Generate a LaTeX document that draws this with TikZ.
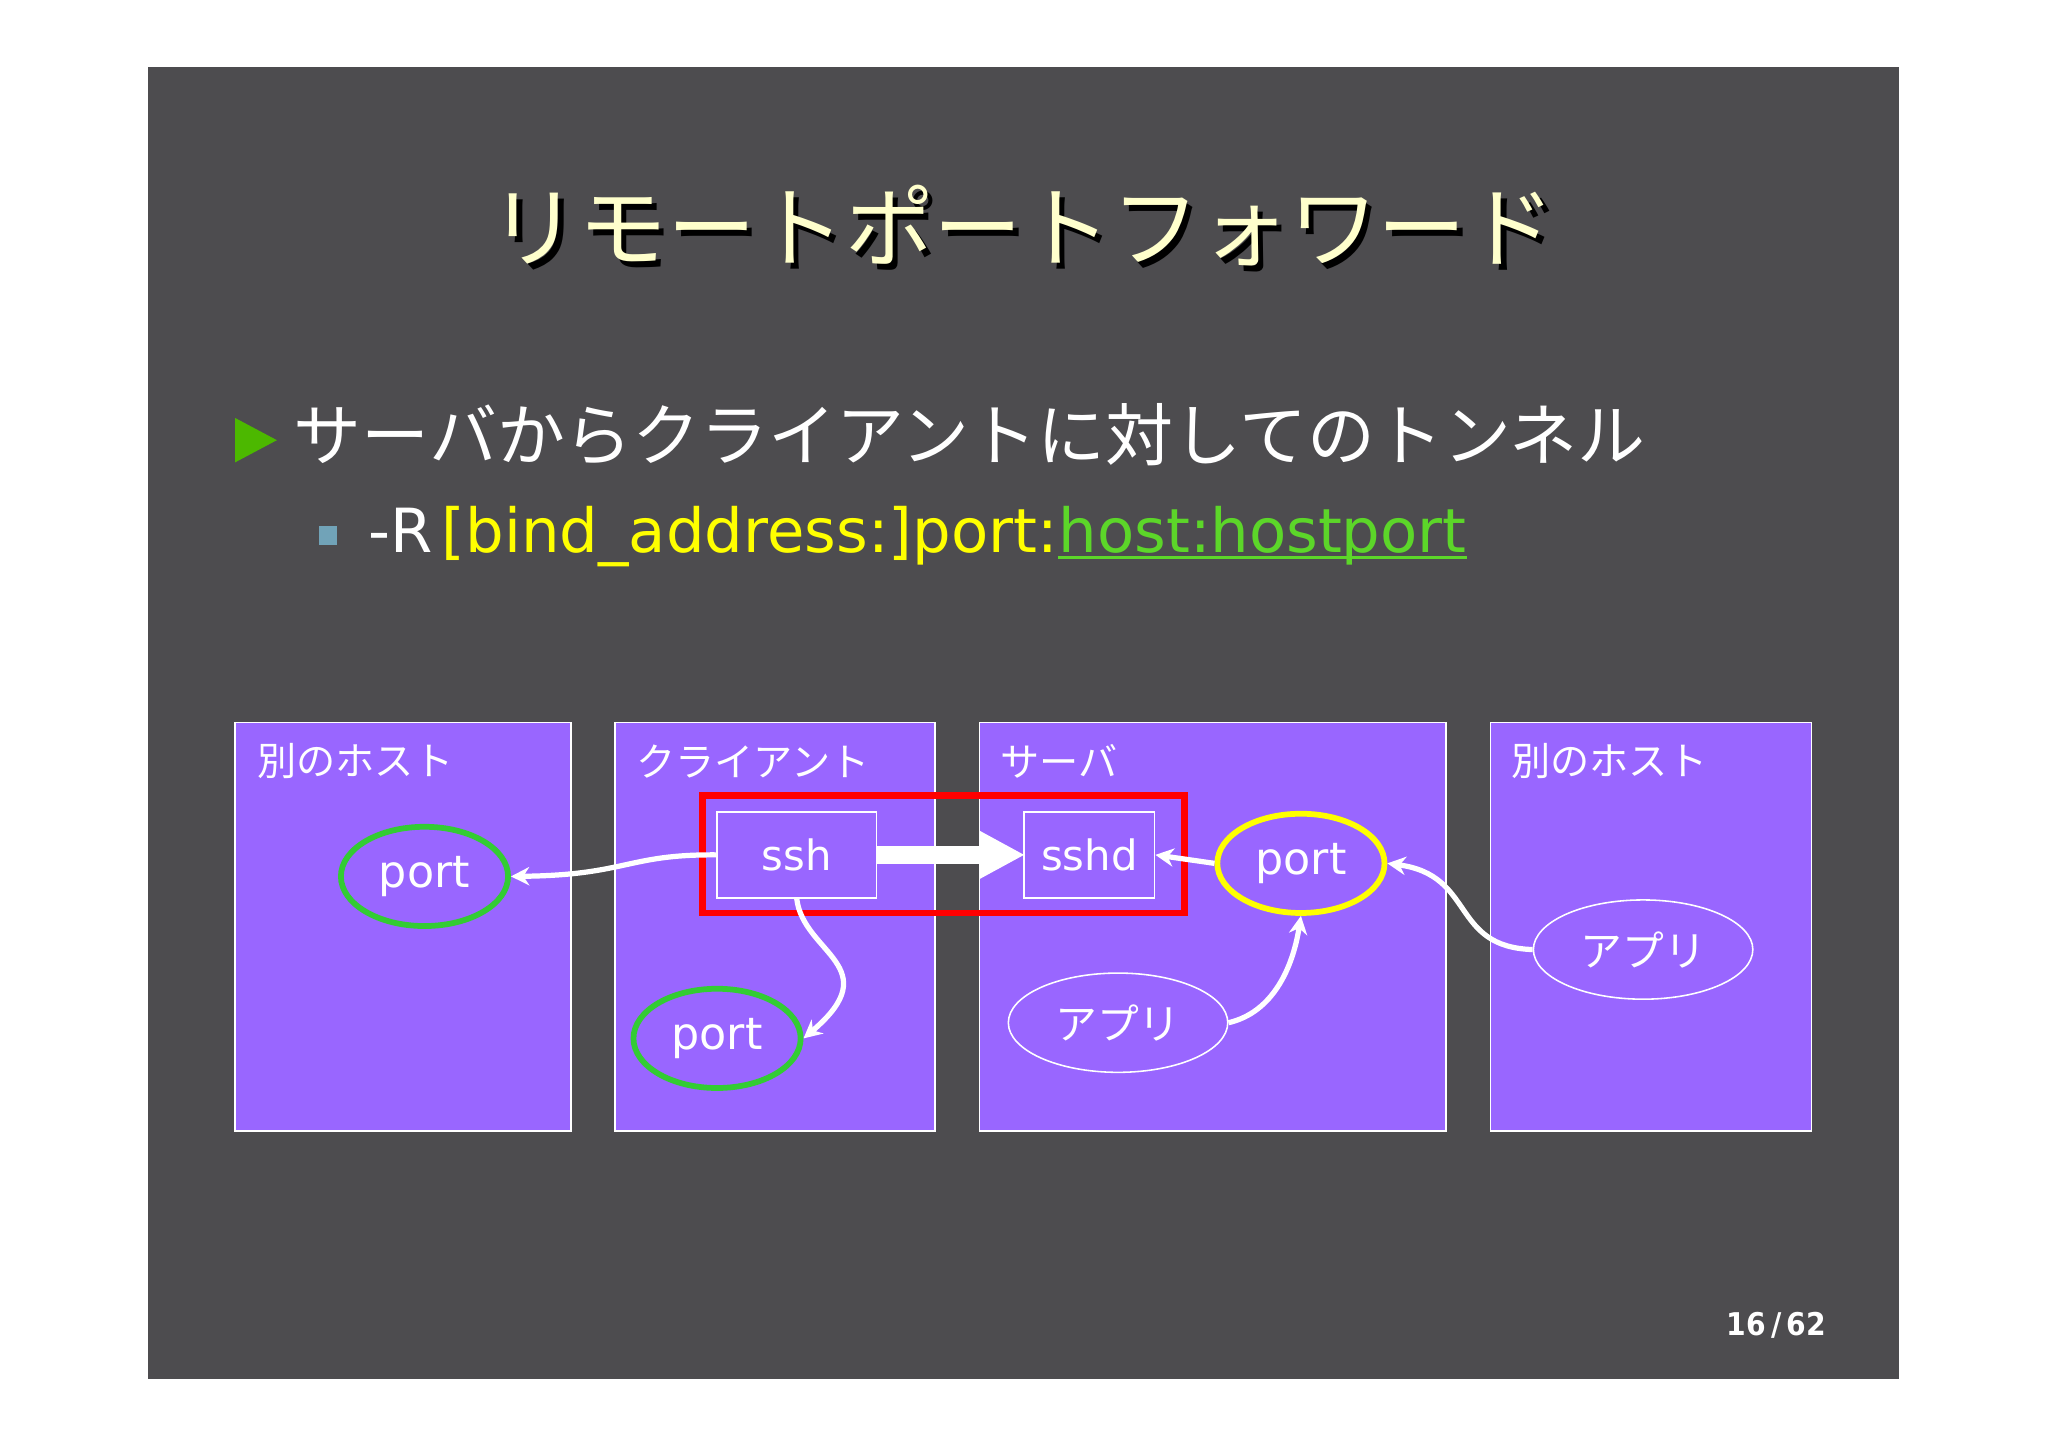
\documentclass[tikz,border=0pt]{standalone}
\usepackage{fontspec}
\setmainfont{DejaVu Sans}
\newfontfamily\cond{DejaVu Sans Condensed}
\newfontfamily\jp{Noto Sans CJK JP}
\usetikzlibrary{arrows.meta,shapes.geometric}
\definecolor{slide}{HTML}{4D4C4F}
\definecolor{purp}{HTML}{9966FF}
\definecolor{titley}{HTML}{FFFFCC}
\definecolor{grn}{HTML}{33CC33}
\definecolor{yel}{HTML}{FFFF00}
\tikzset{
 hostbox/.style={draw=white,fill=purp,line width=0.6pt},
 lbl/.style={anchor=west,text=white,font=\jp\fontsize{15}{17}\selectfont},
 progbox/.style={draw=white,line width=0.6pt,minimum width=61pt,minimum height=33pt,text=white,font=\fontsize{16}{18}\selectfont},
 porte/.style={ellipse,draw=#1,line width=2.2pt,minimum width=64pt,minimum height=38pt,text=white,font=\fontsize{17}{19}\selectfont},
 appe/.style={ellipse,draw=white,line width=0.6pt,minimum width=84pt,minimum height=38pt,text=white,font=\jp\fontsize{16}{18}\selectfont},
 conn/.style={draw=white,line width=2pt,-{Stealth[length=7pt,width=7pt]}},
 rline/.style={inner sep=0pt,font=\fontsize{23.3}{25}\selectfont},
}
\begin{document}
\begin{tikzpicture}[x=0.5pt,y=-0.5pt]
\useasboundingbox (0,0) rectangle (1568,1108);
\fill[white] (0,0) rectangle (1568,1108);
\fill[slide] (113,51) rectangle (1454,1056);
% title
\node[text=titley,font=\jp\fontsize{34}{36}\selectfont] (title) at (785,175) {\tikz[baseline]{\node[text=black,inner sep=0pt] at (2pt,-2pt) {リモートポートフォワード};\node[text=titley,inner sep=0pt] at (0,0) {リモートポートフォワード};}};
% bullets
\fill[green!60!black!70!yellow] (180,320) -- (212,337) -- (180,354) -- cycle;
\node[anchor=west,text=white,font=\jp\fontsize{26}{28}\selectfont] (b1) at (218,333) {サーバからクライアントに対してのトンネル};
\fill[cyan!40!gray] (244,403) rectangle (258,417);
\node[rline,anchor=base west,text=white] (r1) at (282,423) {-R\strut};
\node[rline,anchor=base west,text=yel] (r2) at ([xshift=0.3em]r1.base east) {[bind\_address:]port:\strut};
\node[rline,anchor=base west,text=grn!80!yellow] (r3) at (r2.base east) {host:hostport\strut};
\draw[grn!80!yellow,line width=1pt] ([yshift=-2pt]r3.base west) -- ([yshift=-2pt]r3.base east);
% boxes
\draw[hostbox] (180,553) rectangle (437,866);
\draw[hostbox] (471,553) rectangle (716,866);
\draw[hostbox] (750,553) rectangle (1107,866);
\draw[hostbox] (1141,553) rectangle (1387,866);
\node[lbl] at (190,583) {別のホスト};
\node[lbl] at (480,583) {クライアント};
\node[lbl] at (759,583) {サーバ};
\node[lbl] at (1150,583) {別のホスト};
\draw[red,line width=2.5pt] (538,609) rectangle (907,699);
\node[progbox] (ssh) at (610,654.5) {ssh};
\node[progbox,minimum width=50pt] (sshd) at (834,654.5) {sshd};
\node[porte=grn] (p1) at (325,671) {port};
\node[porte=grn] (p2) at (549,795) {port};
\node[porte=yel] (p3) at (996,661) {port};
\node[appe] (a1) at (856,783) {アプリ};
\node[appe] (a2) at (1258,727) {アプリ};
% connectors
\draw[white,line width=7pt] (ssh.east) -- (752,654.5);
\fill[white] (750,636) -- (784,654.5) -- (750,673) -- cycle;
\draw[conn] (ssh.west) .. controls (480,654) and (480,670) .. (p1.east);
\draw[conn] (ssh.south) .. controls (615,730) and (680,740) .. (p2.east);
\draw[conn] (p3.west) -- (sshd.east);
\draw[conn] (a1.east) .. controls (975,775) and (990,740) .. (p3.south);
\draw[conn] (a2.west) .. controls (1110,725) and (1130,670) .. (p3.east);
\node[text=white,font=\cond\bfseries\fontsize{12}{14}\selectfont] (pg) at (1360,1015) {16\,/\,62};
\end{tikzpicture}
\end{document}
